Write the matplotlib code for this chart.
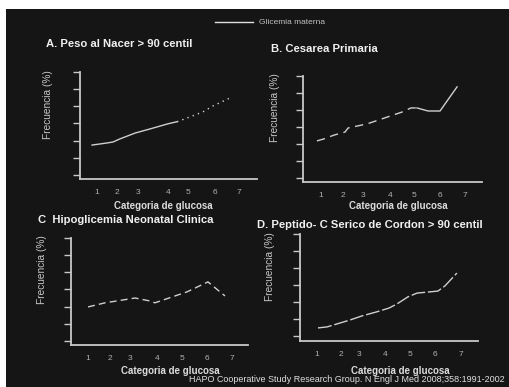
import matplotlib
matplotlib.use("Agg")
import matplotlib.pyplot as plt
from matplotlib.patches import Rectangle

plt.rcParams['font.family'] = ['Liberation Sans', 'DejaVu Sans']

W, H = 510, 387
BG = '#151515'
FG = '#c8c8c8'

cat_labels = ['1', '2', '3', '4', '5', '6', '7']
y_ticks = [0, 5, 10, 15, 20, 25, 30]

# A. Peso al Nacer > 90 centil
a_ticks = [1, 1.85, 2.73, 4.0, 4.84, 5.99, 7]
a_x = [0.79, 1.42, 1.68, 1.97, 2.61, 3.24, 4.0, 4.38, 4.93, 5.48, 5.90, 6.70]
a_y = [8.7, 9.3, 9.6, 10.5, 12.2, 13.4, 14.9, 15.5, 16.9, 18.4, 20.1, 22.7]

# B. Cesarea Primaria
b_ticks = [1, 1.92, 2.75, 3.88, 4.88, 5.96, 7]
b_x = [0.83, 1.13, 1.54, 2.0, 2.13, 2.92, 3.88, 4.38, 4.75, 5.0, 5.46, 5.96, 6.46, 6.67]
b_y = [10.9, 11.5, 12.6, 13.5, 14.7, 15.9, 18.2, 19.4, 20.6, 20.6, 19.7, 19.7, 24.7, 26.8]

# C. Hipoglicemia Neonatal Clinica
c_ticks = [1, 1.92, 2.75, 3.88, 4.92, 5.96, 7]
c_x = [1.0, 1.71, 2.25, 2.96, 3.54, 3.79, 4.5, 5.13, 6.0, 6.71]
c_y = [9.9, 11.1, 11.7, 12.5, 11.7, 11.1, 12.8, 14.3, 17.2, 13.1]

# D. Peptido-C Serico de Cordon > 90 centil
d_ticks = [1, 2, 2.75, 3.83, 4.88, 5.92, 7]
d_x = [1.04, 1.42, 1.96, 2.38, 2.88, 3.5, 4.0, 4.33, 4.79, 5.17, 6.04, 6.33, 6.83]
d_y = [2.35, 2.65, 3.8, 4.7, 5.9, 7.1, 8.2, 9.4, 11.5, 12.6, 13.2, 14.7, 18.5]

fig = plt.figure(figsize=(W / 100, H / 100), dpi=100, facecolor='white')
fig.patches.append(Rectangle((6 / W, 0), 1, 1 - 9 / H, transform=fig.transFigure,
                             facecolor=BG, edgecolor='none', zorder=-10))


def px_text(x, y, s, **kw):
    fig.text(x / W, 1 - y / H, s, **kw)


def panel(box, ticks, xlim, ylo, segs):
    l, t, r, b = box
    ax = fig.add_axes([l / W, 1 - b / H, (r - l) / W, (b - t) / H])
    ax.set_facecolor('none')
    for s in ['top', 'right']:
        ax.spines[s].set_visible(False)
    for s in ['left', 'bottom']:
        ax.spines[s].set_color(FG)
        ax.spines[s].set_linewidth(1.3)
    ax.set_xlim(*xlim)
    ax.set_ylim(ylo, 30)
    ax.set_yticks(y_ticks)
    ax.set_yticklabels([])
    ax.tick_params(axis='y', length=5, width=1.0, color=FG)
    ax.set_xticks(ticks, cat_labels)
    ax.tick_params(axis='x', length=0, pad=7, labelsize=6, labelcolor='#b0b0b0')
    for xs, ys, ls in segs:
        ax.plot(xs, ys, color='#cfcfcf', lw=1.0, linestyle=ls)
    return ax


panel((80, 72, 257, 179), a_ticks, (0.28, 7.76), -1.2,
      [(a_x[:8], a_y[:8], '-'), (a_x[7:], a_y[7:], (0, (1, 3)))])
panel((303, 76, 482, 182), b_ticks, (0.25, 7.71), -1.2,
      [(b_x[:10], b_y[:10], (0, (6, 4))), (b_x[9:], b_y[9:], '-')])
panel((71, 238, 248, 345), c_ticks, (0.29, 7.67), -1.2,
      [(c_x, c_y, (0, (5, 3)))])
panel((300, 234, 478, 341), d_ticks, (0.29, 7.71), -1.5,
      [(d_x, d_y, (0, (10, 2)))])

title_kw = dict(color='#f0f0f0', fontsize=8.1, fontweight='bold', va='center', ha='left')
px_text(46, 44, 'A. Peso al Nacer > 90 centil', **title_kw)
px_text(271, 49, 'B. Cesarea Primaria', **title_kw)
px_text(38, 220, 'C  Hipoglicemia Neonatal Clinica', **title_kw)
px_text(257, 225, 'D. Peptido- C Serico de Cordon > 90 centil', **title_kw)

xl_kw = dict(color='#dcdcdc', fontsize=7, fontweight='bold', va='center', ha='center')
px_text(163, 206, 'Categoria de glucosa', **xl_kw)
px_text(398, 206, 'Categoria de glucosa', **xl_kw)
px_text(170, 371, 'Categoria de glucosa', **xl_kw)
px_text(400, 371, 'Categoria de glucosa', **xl_kw)

yl_kw = dict(color='#c8c8c8', fontsize=7.3, rotation=90, va='center', ha='center')
px_text(48, 105, 'Frecuencia (%)', **yl_kw)
px_text(275, 108, 'Frecuencia (%)', **yl_kw)
px_text(42, 270, 'Frecuencia (%)', **yl_kw)
px_text(270, 267, 'Frecuencia (%)', **yl_kw)

# leyenda
fig.add_artist(plt.Line2D([215 / W, 253 / W], [1 - 22 / H, 1 - 22 / H],
                          transform=fig.transFigure, color='#e0e0e0', lw=1.0))
px_text(259, 22, 'Glicemia materna', color='#c0c0c0', fontsize=6, va='center', ha='left')

px_text(347, 380, 'HAPO Cooperative Study Research Group. N Engl J Med 2008;358:1991-2002',
        color='#e0e0e0', fontsize=6.5, va='center', ha='center')

fig.savefig('out.png', dpi=100, facecolor='white')
